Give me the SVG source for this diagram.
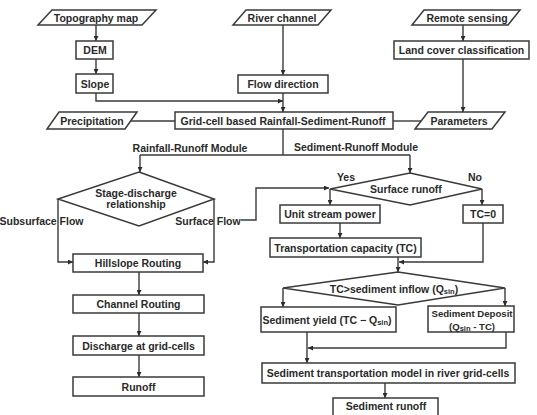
<svg xmlns="http://www.w3.org/2000/svg" width="537" height="415" viewBox="0 0 537 415">
<defs>
<marker id="ah" viewBox="0 0 10 10" refX="10" refY="5" markerWidth="5" markerHeight="5" orient="auto" markerUnits="userSpaceOnUse"><path d="M0,0 L10,5 L0,10 z" fill="#2b2b2b"/></marker>
<style>
.b{fill:#fff;stroke:#3a3a3a;stroke-width:1.5}
.c{fill:none;stroke:#3a3a3a;stroke-width:1.4}
.a{fill:none;stroke:#3a3a3a;stroke-width:1.4;marker-end:url(#ah)}
text{font-family:"Liberation Sans",Arial,sans-serif;font-weight:bold;font-size:10.5px;fill:#2a2a2a;text-anchor:middle;dominant-baseline:central}
.s{font-size:7.5px}
.sm{font-size:9.6px}
</style>
</defs>
<rect width="537" height="415" fill="#fff"/>
<g id="connectors">
<path class="a" d="M96,25 V41"/>
<path class="a" d="M96,59 V74"/>
<path class="a" d="M96,93 V101 H283"/>
<path class="a" d="M283,25 V75"/>
<path class="a" d="M283,93 V112"/>
<path class="a" d="M463,25 V41"/>
<path class="a" d="M463,59 V112"/>
<path class="c" d="M131,121 H175"/>
<path class="c" d="M393,121 H421"/>
<path class="c" d="M283,129 V155"/>
<path class="c" d="M140,155 H410"/>
<path class="a" d="M140,155 V172"/>
<path class="a" d="M410,155 V173"/>
<path class="a" d="M58,199 V262 H73"/>
<path class="a" d="M214,199 V262 H203"/>
<path class="a" d="M241,220 H256 V188 H329"/>
<path class="a" d="M139,272 V295"/>
<path class="a" d="M139,313 V336"/>
<path class="a" d="M139,355 V377"/>
<path class="a" d="M330,189 V205"/>
<path class="a" d="M482,189 V205"/>
<path class="a" d="M340,223 V238"/>
<path class="a" d="M483,223 V262 H399"/>
<path class="a" d="M398,257 V272"/>
<path class="a" d="M283,288 V307"/>
<path class="a" d="M505,288 V306"/>
<path class="a" d="M506,332 V348 H308"/>
<path class="a" d="M307,332 V363"/>
<path class="a" d="M385,383 V398"/>
</g>
<g id="topography"><polygon class="b" points="52,10 156,10 142,25 38,25"/><text x="96" y="17.5">Topography map</text></g>
<g id="dem"><rect class="b" x="76" y="41" width="37" height="18"/><text x="95" y="50">DEM</text></g>
<g id="slope"><rect class="b" x="76" y="74" width="37" height="19"/><text x="95" y="83.5">Slope</text></g>
<g id="river"><polygon class="b" points="246,10 331,10 318,25 233,25"/><text x="282" y="17.5">River channel</text></g>
<g id="flowdir"><rect class="b" x="238" y="75" width="90" height="18"/><text x="283" y="84">Flow direction</text></g>
<g id="remote"><polygon class="b" points="424,10 520,10 508,25 412,25"/><text x="467" y="17.5">Remote sensing</text></g>
<g id="landcover"><rect class="b" x="394" y="41" width="135" height="18"/><text x="461.5" y="50">Land cover classification</text></g>
<g id="parameters"><polygon class="b" points="428,112 505,112 492,129 415,129"/><text x="459" y="120.5">Parameters</text></g>
<g id="precip"><polygon class="b" points="59,112 137,112 125,129 47,129"/><text x="92" y="120.5">Precipitation</text></g>
<g id="grid"><rect class="b" x="175" y="112" width="218" height="17"/><text x="283" y="120.5">Grid-cell based Rainfall-Sediment-Runoff</text></g>
<g id="lbl-rr"><text x="190" y="148">Rainfall-Runoff Module</text></g>
<g id="lbl-sr"><text x="356" y="147">Sediment-Runoff Module</text></g>
<g id="stage"><polygon class="b" points="139,172 214,199 139,226 58,199"/><text x="136" y="193">Stage-discharge</text><text x="136" y="204">relationship</text></g>
<g id="lbl-sub"><text x="41.5" y="220.5">Subsurface Flow</text></g>
<g id="lbl-surf"><text x="208" y="220.5">Surface Flow</text></g>
<g id="hillslope"><rect class="b" x="73" y="254" width="130" height="18"/><text x="138" y="263">Hillslope Routing</text></g>
<g id="channel"><rect class="b" x="73" y="295" width="131" height="18"/><text x="138.5" y="304">Channel Routing</text></g>
<g id="discharge"><rect class="b" x="73" y="336" width="131" height="19"/><text x="138.5" y="345.5">Discharge at grid-cells</text></g>
<g id="runoff"><rect class="b" x="73" y="377" width="131" height="19"/><text x="138.5" y="386.5">Runoff</text></g>
<g id="surfrunoff"><polygon class="b" points="410,173 482,189 410,205 330,189"/><text x="406" y="189">Surface runoff</text></g>
<g id="lbl-yes"><text x="346" y="177">Yes</text></g>
<g id="lbl-no"><text x="475" y="177">No</text></g>
<g id="usp"><rect class="b" x="280" y="205" width="100" height="18"/><text x="330" y="214">Unit stream power</text></g>
<g id="tc0"><rect class="b" x="463" y="205" width="40" height="18"/><text x="483" y="214">TC=0</text></g>
<g id="tcap"><rect class="b" x="270" y="238" width="151" height="19"/><text x="345.5" y="247.5">Transportation capacity (TC)</text></g>
<g id="tcdiamond"><polygon class="b" points="398,272 505,288 398,305 283,288"/><text x="394" y="289">TC&gt;sediment inflow (Q<tspan class="s" dy="2">sin</tspan><tspan dy="-2">)</tspan></text></g>
<g id="yield"><rect class="b" x="261" y="307" width="135" height="25"/><text x="327" y="320">Sediment yield (TC − Q<tspan class="s" dy="2">sin</tspan><tspan dy="-2">)</tspan></text></g>
<g id="deposit"><rect class="b" x="428" y="306" width="86" height="26"/><text class="sm" x="472" y="313">Sediment Deposit</text><text class="sm" x="472" y="326">(Q<tspan class="s" dy="2">sin</tspan><tspan dy="-2"> - TC)</tspan></text></g>
<g id="transport"><rect class="b" x="262" y="363" width="253" height="20"/><text x="388" y="373">Sediment transportation model in river grid-cells</text></g>
<g id="sedrunoff"><rect class="b" x="333" y="398" width="105" height="20"/><text x="386" y="406">Sediment runoff</text></g>
</svg>
